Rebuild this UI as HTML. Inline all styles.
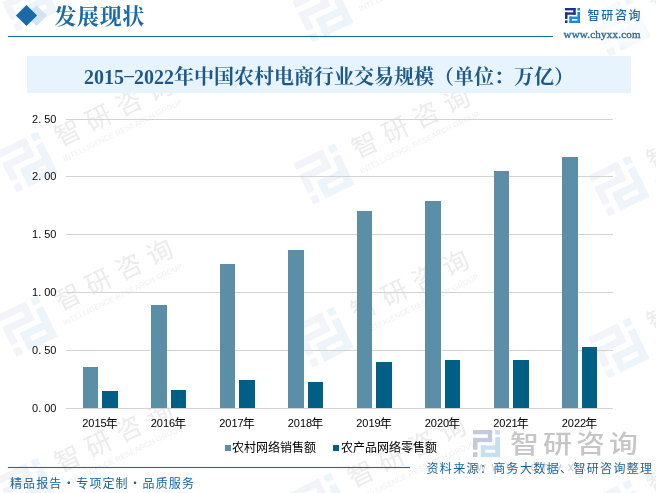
<!DOCTYPE html>
<html lang="zh-CN">
<head>
<meta charset="utf-8">
<title>2015-2022年中国农村电商行业交易规模</title>
<style>
*{margin:0;padding:0;box-sizing:border-box}
html,body{width:656px;height:493px;background:#fff;overflow:hidden}
body{position:relative;font-family:"Liberation Sans","Noto Sans CJK SC",sans-serif}
#p{position:absolute;left:0;top:0;width:656px;height:493px;overflow:hidden;background:#fff}
#p div,#p svg,#p span{position:absolute;white-space:nowrap}
.wm{width:0;height:0;transform:rotate(-26deg);transform-origin:0 0}
.wm .wmc{left:36.5px;top:-26px;font:400 26px/36px "Liberation Sans","Noto Sans CJK SC",sans-serif;letter-spacing:8px;color:#ececec}
.wm .wme{left:34px;top:9px;font:400 7.6px/10px "Liberation Sans",sans-serif;letter-spacing:0.1px;color:#efefef}
.dia{width:15px;height:15px;transform:rotate(45deg)}
.d1{left:18.8px;top:7.9px;background:#1a6aa8}
.d2{left:29.4px;top:7.9px;background:#d3e4f0}
.h1{left:54.5px;top:1.8px;letter-spacing:0.6px;font:700 22px/30px "Liberation Serif","Noto Serif CJK SC",serif;color:#1a6aa8}
.hline{left:8px;top:36px;width:545px;height:1px;background:#1a6aa8;box-shadow:0 0 1px rgba(26,106,168,.55)}
.hw{left:566px;top:10px;width:76px;height:30px;background:rgba(255,255,255,.6);box-shadow:0 0 5px 5px rgba(255,255,255,.6)}
.brand{left:587.5px;top:7px;font:500 12px/18px "Liberation Sans","Noto Sans CJK SC",sans-serif;letter-spacing:1.7px;color:#1a6aa8}
.url{left:563.5px;top:26.6px;font:400 11px/14px "Liberation Serif",serif;color:#2c6c9c;letter-spacing:0.22px;-webkit-text-stroke:0.35px #2c6c9c}
.banner{left:27px;top:56px;width:604px;height:37px;background:#e7f4fd}
.banner span{left:0;width:604px;top:2.5px;text-align:center;font:700 20px/37px "Liberation Serif","Noto Serif CJK SC",serif;color:#1d5a8a}
.banner i{font-style:normal;display:inline-block;width:10px;text-align:center;transform:translateY(-2.4px) scale(1.9,.75)}
.gl{left:66px;width:547px;height:1px;background:#d4d4d4}
.yl{left:32px;width:30px;font:400 11px/14px "Liberation Sans","Noto Sans CJK SC",sans-serif;color:#0a0a0a}
.yl i{font-style:normal;display:inline-block;position:static;width:6px}
.xl{top:415.3px;width:60px;text-align:center;font:400 11px/14px "Liberation Sans","Noto Sans CJK SC",sans-serif;color:#000}
.xl b{font-weight:400;position:relative;top:0.5px;margin-left:-1px;font-size:12px;font-family:"Noto Sans CJK SC",sans-serif}
.lm{top:445px;width:6px;height:6px}
.lt{top:441px;font:400 12px/14px "Liberation Sans","Noto Sans CJK SC",sans-serif;color:#000}
.big{left:0;top:0}
.bigt{left:510px;top:427px;font:500 24.5px/36px "Liberation Sans","Noto Sans CJK SC",sans-serif;letter-spacing:3.5px;color:#c6c6c6;transform:scaleX(1.18);transform-origin:0 50%}
.bigu{left:477px;top:459.5px;font:400 12px/14px "Liberation Sans",sans-serif;letter-spacing:6.2px;color:rgba(150,150,150,.5)}
.fline{left:8px;top:467px;width:402px;height:1px;background:#1a6aa8;box-shadow:0 0 1px rgba(26,106,168,.55)}
.fl{left:10px;top:473.7px;font:400 12px/18px "Noto Sans CJK SC","Liberation Sans",sans-serif;letter-spacing:1.1px;color:#17659f}
.fl i{font-style:normal;display:inline-block;width:13.9px;text-align:center}
.src{left:426.5px;top:459px;font:400 12px/18px "Noto Sans CJK SC","Liberation Sans",sans-serif;letter-spacing:1.35px;color:#17659f}
</style>
</head>
<body>
<div id="p">
<div class="wm" style="left:27px;top:1px"><svg class="lg" style="width:46px;height:46px;left:-23px;top:-23px;" viewBox="0 0 240 240"><rect x="0" y="0" width="170" height="38" fill="#f2f4f9"/><rect x="132" y="0" width="38" height="108" fill="#f2f4f9"/><rect x="0" y="70" width="170" height="38" fill="#f2f4f9"/><rect x="0" y="70" width="40" height="105" fill="#f2f4f9"/><rect x="0" y="198" width="40" height="42" fill="#f2f4f9"/><rect x="198" y="0" width="42" height="40" fill="#edf5fb"/><rect x="198" y="63" width="42" height="177" fill="#edf5fb"/><rect x="70" y="137" width="170" height="38" fill="#edf5fb"/><rect x="70" y="137" width="40" height="103" fill="#edf5fb"/><rect x="70" y="202" width="170" height="38" fill="#edf5fb"/></svg><span class="wmc">智研咨询</span><span class="wme">INTELLIGENCE RESEARCH GROUP</span></div>
<div class="wm" style="left:323px;top:12px"><svg class="lg" style="width:46px;height:46px;left:-23px;top:-23px;" viewBox="0 0 240 240"><rect x="0" y="0" width="170" height="38" fill="#f2f4f9"/><rect x="132" y="0" width="38" height="108" fill="#f2f4f9"/><rect x="0" y="70" width="170" height="38" fill="#f2f4f9"/><rect x="0" y="70" width="40" height="105" fill="#f2f4f9"/><rect x="0" y="198" width="40" height="42" fill="#f2f4f9"/><rect x="198" y="0" width="42" height="40" fill="#edf5fb"/><rect x="198" y="63" width="42" height="177" fill="#edf5fb"/><rect x="70" y="137" width="170" height="38" fill="#edf5fb"/><rect x="70" y="137" width="40" height="103" fill="#edf5fb"/><rect x="70" y="202" width="170" height="38" fill="#edf5fb"/></svg><span class="wmc">智研咨询</span><span class="wme">INTELLIGENCE RESEARCH GROUP</span></div>
<div class="wm" style="left:619.5px;top:25.5px"><svg class="lg" style="width:46px;height:46px;left:-23px;top:-23px;" viewBox="0 0 240 240"><rect x="0" y="0" width="170" height="38" fill="#f2f4f9"/><rect x="132" y="0" width="38" height="108" fill="#f2f4f9"/><rect x="0" y="70" width="170" height="38" fill="#f2f4f9"/><rect x="0" y="70" width="40" height="105" fill="#f2f4f9"/><rect x="0" y="198" width="40" height="42" fill="#f2f4f9"/><rect x="198" y="0" width="42" height="40" fill="#edf5fb"/><rect x="198" y="63" width="42" height="177" fill="#edf5fb"/><rect x="70" y="137" width="170" height="38" fill="#edf5fb"/><rect x="70" y="137" width="40" height="103" fill="#edf5fb"/><rect x="70" y="202" width="170" height="38" fill="#edf5fb"/></svg><span class="wmc">智研咨询</span><span class="wme">INTELLIGENCE RESEARCH GROUP</span></div>
<div class="wm" style="left:27px;top:161.5px"><svg class="lg" style="width:46px;height:46px;left:-23px;top:-23px;" viewBox="0 0 240 240"><rect x="0" y="0" width="170" height="38" fill="#f2f4f9"/><rect x="132" y="0" width="38" height="108" fill="#f2f4f9"/><rect x="0" y="70" width="170" height="38" fill="#f2f4f9"/><rect x="0" y="70" width="40" height="105" fill="#f2f4f9"/><rect x="0" y="198" width="40" height="42" fill="#f2f4f9"/><rect x="198" y="0" width="42" height="40" fill="#edf5fb"/><rect x="198" y="63" width="42" height="177" fill="#edf5fb"/><rect x="70" y="137" width="170" height="38" fill="#edf5fb"/><rect x="70" y="137" width="40" height="103" fill="#edf5fb"/><rect x="70" y="202" width="170" height="38" fill="#edf5fb"/></svg><span class="wmc">智研咨询</span><span class="wme">INTELLIGENCE RESEARCH GROUP</span></div>
<div class="wm" style="left:324px;top:174px"><svg class="lg" style="width:46px;height:46px;left:-23px;top:-23px;" viewBox="0 0 240 240"><rect x="0" y="0" width="170" height="38" fill="#f2f4f9"/><rect x="132" y="0" width="38" height="108" fill="#f2f4f9"/><rect x="0" y="70" width="170" height="38" fill="#f2f4f9"/><rect x="0" y="70" width="40" height="105" fill="#f2f4f9"/><rect x="0" y="198" width="40" height="42" fill="#f2f4f9"/><rect x="198" y="0" width="42" height="40" fill="#edf5fb"/><rect x="198" y="63" width="42" height="177" fill="#edf5fb"/><rect x="70" y="137" width="170" height="38" fill="#edf5fb"/><rect x="70" y="137" width="40" height="103" fill="#edf5fb"/><rect x="70" y="202" width="170" height="38" fill="#edf5fb"/></svg><span class="wmc">智研咨询</span><span class="wme">INTELLIGENCE RESEARCH GROUP</span></div>
<div class="wm" style="left:619px;top:186px"><svg class="lg" style="width:46px;height:46px;left:-23px;top:-23px;" viewBox="0 0 240 240"><rect x="0" y="0" width="170" height="38" fill="#f2f4f9"/><rect x="132" y="0" width="38" height="108" fill="#f2f4f9"/><rect x="0" y="70" width="170" height="38" fill="#f2f4f9"/><rect x="0" y="70" width="40" height="105" fill="#f2f4f9"/><rect x="0" y="198" width="40" height="42" fill="#f2f4f9"/><rect x="198" y="0" width="42" height="40" fill="#edf5fb"/><rect x="198" y="63" width="42" height="177" fill="#edf5fb"/><rect x="70" y="137" width="170" height="38" fill="#edf5fb"/><rect x="70" y="137" width="40" height="103" fill="#edf5fb"/><rect x="70" y="202" width="170" height="38" fill="#edf5fb"/></svg><span class="wmc">智研咨询</span><span class="wme">INTELLIGENCE RESEARCH GROUP</span></div>
<div class="wm" style="left:27px;top:326px"><svg class="lg" style="width:46px;height:46px;left:-23px;top:-23px;" viewBox="0 0 240 240"><rect x="0" y="0" width="170" height="38" fill="#f2f4f9"/><rect x="132" y="0" width="38" height="108" fill="#f2f4f9"/><rect x="0" y="70" width="170" height="38" fill="#f2f4f9"/><rect x="0" y="70" width="40" height="105" fill="#f2f4f9"/><rect x="0" y="198" width="40" height="42" fill="#f2f4f9"/><rect x="198" y="0" width="42" height="40" fill="#edf5fb"/><rect x="198" y="63" width="42" height="177" fill="#edf5fb"/><rect x="70" y="137" width="170" height="38" fill="#edf5fb"/><rect x="70" y="137" width="40" height="103" fill="#edf5fb"/><rect x="70" y="202" width="170" height="38" fill="#edf5fb"/></svg><span class="wmc">智研咨询</span><span class="wme">INTELLIGENCE RESEARCH GROUP</span></div>
<div class="wm" style="left:323px;top:336.5px"><svg class="lg" style="width:46px;height:46px;left:-23px;top:-23px;" viewBox="0 0 240 240"><rect x="0" y="0" width="170" height="38" fill="#f2f4f9"/><rect x="132" y="0" width="38" height="108" fill="#f2f4f9"/><rect x="0" y="70" width="170" height="38" fill="#f2f4f9"/><rect x="0" y="70" width="40" height="105" fill="#f2f4f9"/><rect x="0" y="198" width="40" height="42" fill="#f2f4f9"/><rect x="198" y="0" width="42" height="40" fill="#edf5fb"/><rect x="198" y="63" width="42" height="177" fill="#edf5fb"/><rect x="70" y="137" width="170" height="38" fill="#edf5fb"/><rect x="70" y="137" width="40" height="103" fill="#edf5fb"/><rect x="70" y="202" width="170" height="38" fill="#edf5fb"/></svg><span class="wmc">智研咨询</span><span class="wme">INTELLIGENCE RESEARCH GROUP</span></div>
<div class="wm" style="left:619.3px;top:348px"><svg class="lg" style="width:46px;height:46px;left:-23px;top:-23px;" viewBox="0 0 240 240"><rect x="0" y="0" width="170" height="38" fill="#f2f4f9"/><rect x="132" y="0" width="38" height="108" fill="#f2f4f9"/><rect x="0" y="70" width="170" height="38" fill="#f2f4f9"/><rect x="0" y="70" width="40" height="105" fill="#f2f4f9"/><rect x="0" y="198" width="40" height="42" fill="#f2f4f9"/><rect x="198" y="0" width="42" height="40" fill="#edf5fb"/><rect x="198" y="63" width="42" height="177" fill="#edf5fb"/><rect x="70" y="137" width="170" height="38" fill="#edf5fb"/><rect x="70" y="137" width="40" height="103" fill="#edf5fb"/><rect x="70" y="202" width="170" height="38" fill="#edf5fb"/></svg><span class="wmc">智研咨询</span><span class="wme">INTELLIGENCE RESEARCH GROUP</span></div>
<div class="wm" style="left:27px;top:488px"><svg class="lg" style="width:46px;height:46px;left:-23px;top:-23px;" viewBox="0 0 240 240"><rect x="0" y="0" width="170" height="38" fill="#f2f4f9"/><rect x="132" y="0" width="38" height="108" fill="#f2f4f9"/><rect x="0" y="70" width="170" height="38" fill="#f2f4f9"/><rect x="0" y="70" width="40" height="105" fill="#f2f4f9"/><rect x="0" y="198" width="40" height="42" fill="#f2f4f9"/><rect x="198" y="0" width="42" height="40" fill="#edf5fb"/><rect x="198" y="63" width="42" height="177" fill="#edf5fb"/><rect x="70" y="137" width="170" height="38" fill="#edf5fb"/><rect x="70" y="137" width="40" height="103" fill="#edf5fb"/><rect x="70" y="202" width="170" height="38" fill="#edf5fb"/></svg><span class="wmc">智研咨询</span><span class="wme">INTELLIGENCE RESEARCH GROUP</span></div>
<div class="wm" style="left:320px;top:503px"><svg class="lg" style="width:46px;height:46px;left:-23px;top:-23px;" viewBox="0 0 240 240"><rect x="0" y="0" width="170" height="38" fill="#f2f4f9"/><rect x="132" y="0" width="38" height="108" fill="#f2f4f9"/><rect x="0" y="70" width="170" height="38" fill="#f2f4f9"/><rect x="0" y="70" width="40" height="105" fill="#f2f4f9"/><rect x="0" y="198" width="40" height="42" fill="#f2f4f9"/><rect x="198" y="0" width="42" height="40" fill="#edf5fb"/><rect x="198" y="63" width="42" height="177" fill="#edf5fb"/><rect x="70" y="137" width="170" height="38" fill="#edf5fb"/><rect x="70" y="137" width="40" height="103" fill="#edf5fb"/><rect x="70" y="202" width="170" height="38" fill="#edf5fb"/></svg><span class="wmc">智研咨询</span><span class="wme">INTELLIGENCE RESEARCH GROUP</span></div>
<div class="wm" style="left:619px;top:510px"><svg class="lg" style="width:46px;height:46px;left:-23px;top:-23px;" viewBox="0 0 240 240"><rect x="0" y="0" width="170" height="38" fill="#f2f4f9"/><rect x="132" y="0" width="38" height="108" fill="#f2f4f9"/><rect x="0" y="70" width="170" height="38" fill="#f2f4f9"/><rect x="0" y="70" width="40" height="105" fill="#f2f4f9"/><rect x="0" y="198" width="40" height="42" fill="#f2f4f9"/><rect x="198" y="0" width="42" height="40" fill="#edf5fb"/><rect x="198" y="63" width="42" height="177" fill="#edf5fb"/><rect x="70" y="137" width="170" height="38" fill="#edf5fb"/><rect x="70" y="137" width="40" height="103" fill="#edf5fb"/><rect x="70" y="202" width="170" height="38" fill="#edf5fb"/></svg><span class="wmc">智研咨询</span><span class="wme">INTELLIGENCE RESEARCH GROUP</span></div>
<div class="gl" style="top:119px"></div>
<div class="yl" style="top:112px">2<i>.</i>50</div>
<div class="gl" style="top:176px"></div>
<div class="yl" style="top:169px">2<i>.</i>00</div>
<div class="gl" style="top:234px"></div>
<div class="yl" style="top:227px">1<i>.</i>50</div>
<div class="gl" style="top:292px"></div>
<div class="yl" style="top:285px">1<i>.</i>00</div>
<div class="gl" style="top:350px"></div>
<div class="yl" style="top:343px">0<i>.</i>50</div>
<div class="gl" style="top:408px"></div>
<div class="yl" style="top:401px">0<i>.</i>00</div>
<div class="bar" style="left:83px;width:15px;top:367px;height:41px;background:#5b8fa8"></div>
<div class="bar" style="left:151px;width:16px;top:305px;height:103px;background:#5b8fa8"></div>
<div class="bar" style="left:220px;width:15px;top:264px;height:144px;background:#5b8fa8"></div>
<div class="bar" style="left:288px;width:16px;top:250px;height:158px;background:#5b8fa8"></div>
<div class="bar" style="left:357px;width:15px;top:211px;height:197px;background:#5b8fa8"></div>
<div class="bar" style="left:425px;width:16px;top:201px;height:207px;background:#5b8fa8"></div>
<div class="bar" style="left:494px;width:15px;top:171px;height:237px;background:#5b8fa8"></div>
<div class="bar" style="left:562px;width:16px;top:157px;height:251px;background:#5b8fa8"></div>
<div class="bar" style="left:102px;width:16px;top:391px;height:17px;background:#005f84"></div>
<div class="bar" style="left:171px;width:15px;top:390px;height:18px;background:#005f84"></div>
<div class="bar" style="left:239px;width:16px;top:380px;height:28px;background:#005f84"></div>
<div class="bar" style="left:308px;width:15px;top:382px;height:26px;background:#005f84"></div>
<div class="bar" style="left:376px;width:16px;top:362px;height:46px;background:#005f84"></div>
<div class="bar" style="left:445px;width:15px;top:360px;height:48px;background:#005f84"></div>
<div class="bar" style="left:513px;width:16px;top:360px;height:48px;background:#005f84"></div>
<div class="bar" style="left:582px;width:15px;top:347px;height:61px;background:#005f84"></div>
<div class="dia d2"></div><div class="dia d1"></div>
<div class="h1">发展现状</div>
<div class="hline"></div>
<div class="hw"></div>
<svg class="lg" style="width:15px;height:15px;left:565px;top:8px;" viewBox="0 0 240 240"><rect x="0" y="0" width="170" height="38" fill="#1f2f8c"/><rect x="132" y="0" width="38" height="108" fill="#1f2f8c"/><rect x="0" y="70" width="170" height="38" fill="#1f2f8c"/><rect x="0" y="70" width="40" height="105" fill="#1f2f8c"/><rect x="0" y="198" width="40" height="42" fill="#1f2f8c"/><rect x="198" y="0" width="42" height="40" fill="#1e88d8"/><rect x="198" y="63" width="42" height="177" fill="#1e88d8"/><rect x="70" y="137" width="170" height="38" fill="#1e88d8"/><rect x="70" y="137" width="40" height="103" fill="#1e88d8"/><rect x="70" y="202" width="170" height="38" fill="#1e88d8"/></svg>
<div class="brand">智研咨询</div>
<div class="url">www.chyxx.com</div>
<div class="banner"><span>2015<i>-</i>2022年中国农村电商行业交易规模（单位：万亿）</span></div>
<div class="xl" style="left:70.0px">2015<b>年</b></div>
<div class="xl" style="left:138.5px">2016<b>年</b></div>
<div class="xl" style="left:207.0px">2017<b>年</b></div>
<div class="xl" style="left:275.5px">2018<b>年</b></div>
<div class="xl" style="left:344.0px">2019<b>年</b></div>
<div class="xl" style="left:412.5px">2020<b>年</b></div>
<div class="xl" style="left:480.9px">2021<b>年</b></div>
<div class="xl" style="left:549.4px">2022<b>年</b></div>
<div class="lm" style="left:225px;background:#5b8fa8"></div><div class="lt" style="left:232px">农村网络销售额</div>
<div class="lm" style="left:333px;background:#005f84"></div><div class="lt" style="left:341px">农产品网络零售额</div>
<div class="big"><svg class="lg" style="width:27px;height:27px;left:473px;top:430px;" viewBox="0 0 240 240"><rect x="0" y="0" width="170" height="38" fill="#c5c9dc"/><rect x="132" y="0" width="38" height="108" fill="#c5c9dc"/><rect x="0" y="70" width="170" height="38" fill="#c5c9dc"/><rect x="0" y="70" width="40" height="105" fill="#c5c9dc"/><rect x="0" y="198" width="40" height="42" fill="#c5c9dc"/><rect x="198" y="0" width="42" height="40" fill="#c6dff1"/><rect x="198" y="63" width="42" height="177" fill="#c6dff1"/><rect x="70" y="137" width="170" height="38" fill="#c6dff1"/><rect x="70" y="137" width="40" height="103" fill="#c6dff1"/><rect x="70" y="202" width="170" height="38" fill="#c6dff1"/></svg><span class="bigt">智研咨询</span></div>
<div class="fline"></div>
<div class="fl">精品报告<i>·</i>专项定制<i>·</i>品质服务</div>
<div class="src">资料来源：商务大数据、智研咨询整理</div>
<div class="bigu">www.chyxx.com</div>
</div>
</body>
</html>
